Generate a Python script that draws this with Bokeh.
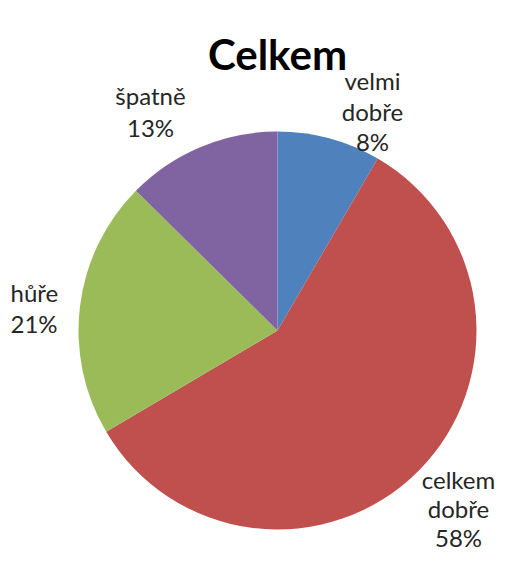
import numpy as np
from bokeh.plotting import figure
from bokeh.models import Range1d, ColumnDataSource
from bokeh.core.properties import value
from bokeh.embed import file_html
from bokeh.resources import INLINE

title = "Celkem"
categories = ["velmi dobře", "celkem dobře", "hůře", "špatně"]
values = [8.4, 58.1, 20.9, 12.6]
colors = ["#4F81BD", "#C0504D", "#9BBB59", "#8064A2"]

W, H = 497, 558
FONT = "Lato"

p = figure(width=W, height=H, output_backend="svg", toolbar_location=None,
           x_range=Range1d(0, W), y_range=Range1d(0, H), min_border=0)
p.axis.visible = False
p.grid.visible = False
p.outline_line_color = None
p.background_fill_color = "white"
p.border_fill_color = "white"

def X(ix):
    return ix

def Y(iy):
    return H - iy

vals = np.array(values, dtype=float)
frac = vals / vals.sum()
cum = np.concatenate([[0.0], np.cumsum(frac)])
start = np.pi / 2 - cum[1:] * 2 * np.pi
end = np.pi / 2 - cum[:-1] * 2 * np.pi

cx, cy, r = X(277), Y(330), 199
src = ColumnDataSource(dict(start=start, end=end, color=colors))
p.wedge(x=cx, y=cy, radius=r, start_angle="start", end_angle="end",
        fill_color="color", line_color=None, source=src)

# title
p.text(x=[X(277)], y=[Y(53)], text=[title], text_font=value(FONT),
       text_font_style="bold", text_font_size="42px", text_align="center",
       text_baseline="alphabetic", text_color="black")

# labels: (center/left x, first baseline, line spacing, align)
layout = [
    (372, 80, 30.5, "center", ["velmi", "dobře"]),
    (458, 479, 29, "center", ["celkem", "dobře"]),
    (10, 292, 31, "left", ["hůře"]),
    (150, 95, 32, "center", ["špatně"]),
]
pcts = [f"{int(round(v / vals.sum() * 100))}%" for v in vals]

xs, ys, ts, als = [], [], [], []
for (lx, ly, sp, al, words), pct in zip(layout, pcts):
    lines = words + [pct]
    for i, t in enumerate(lines):
        xs.append(X(lx)); ys.append(Y(ly + i * sp)); ts.append(t); als.append(al)

lsrc = ColumnDataSource(dict(x=xs, y=ys, text=ts, align=als))
p.text(x="x", y="y", text="text", text_align="align", source=lsrc,
       text_font=value(FONT), text_font_size="24px", text_baseline="alphabetic",
       text_color="#262626")

open("out.html", "w").write(file_html(p, INLINE))
